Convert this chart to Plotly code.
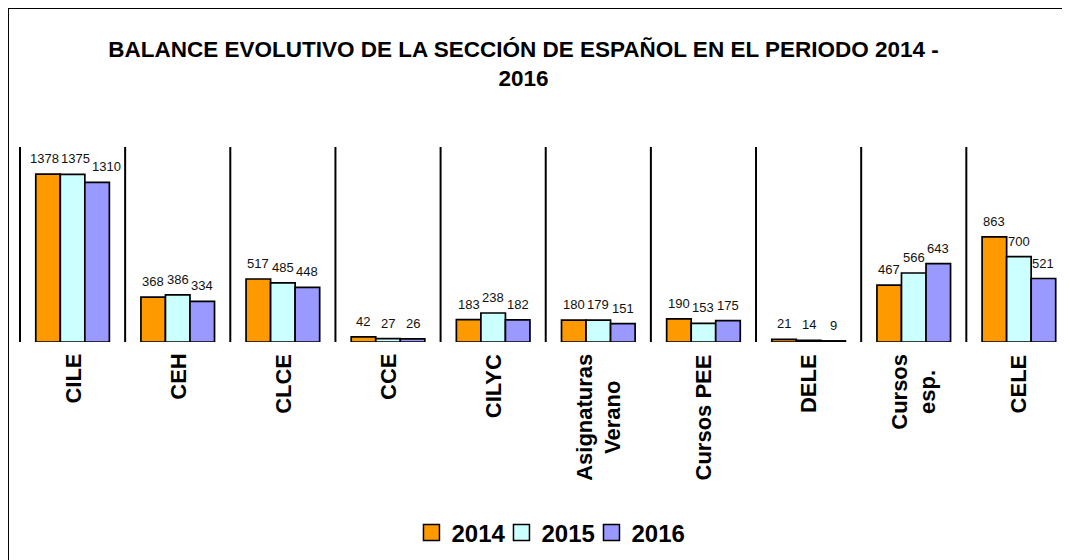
import plotly.graph_objects as go

categories = ["CILE", "CEH", "CLCE", "CCE", "CILYC", "Asignaturas Verano",
              "Cursos PEE", "DELE", "Cursos esp.", "CELE"]
category_labels = ["CILE", "CEH", "CLCE", "CCE", "CILYC", "Asignaturas<br>Verano",
                   "Cursos PEE", "DELE", "Cursos<br>esp.", "CELE"]
v2014 = [1378, 368, 517, 42, 183, 180, 190, 21, 467, 863]
v2015 = [1375, 386, 485, 27, 238, 179, 153, 14, 566, 700]
v2016 = [1310, 334, 448, 26, 182, 151, 175, 9, 643, 521]
series_names = ["2014", "2015", "2016"]
series_values = [v2014, v2015, v2016]
colors = ["#FF9900", "#CCFFFF", "#9999FF"]

FONT = "Liberation Sans, Arial, sans-serif"
BARGAP = 0.3
YMAX = 1600
XRANGE = [-0.538, 9.486]
W, H = 1070, 560
M = dict(l=8, r=8, t=139, b=226)

fig = go.Figure()
for name, vals, col in zip(series_names, series_values, colors):
    fig.add_trace(go.Bar(
        x=categories, y=vals, name=name, showlegend=False,
        marker=dict(color=col, line=dict(color="black", width=1.7)),
    ))
# legend entries with larger square swatches, one legend box per series
legend_ids = ["legend", "legend2", "legend3"]
for name, col, lid in zip(series_names, colors, legend_ids):
    fig.add_trace(go.Scatter(
        x=[None], y=[None], name=name, mode="markers", legend=lid,
        marker=dict(symbol="square", size=16, color=col, line=dict(color="black", width=1.5)),
    ))

shapes = []
for i in range(len(categories)):
    shapes.append(dict(type="line", xref="x", yref="paper", x0=i - 0.5, x1=i - 0.5,
                       y0=0, y1=1, line=dict(color="black", width=2)))
# outer chart border (left and top edges)
shapes.append(dict(type="line", xref="paper", yref="paper", x0=-0.0076, x1=-0.0076,
                   y0=-2.0, y1=1.7128, line=dict(color="black", width=2)))
shapes.append(dict(type="line", xref="paper", yref="paper", x0=-0.0076, x1=1.2,
                   y0=1.7128, y1=1.7128, line=dict(color="black", width=2)))

annotations = []
for cat, lab in zip(categories, category_labels):
    annotations.append(dict(x=cat, y=0, xref="x", yref="y", text=lab, showarrow=False,
                            textangle=-90, yanchor="top", xanchor="center", align="center",
                            yshift=-10,
                            font=dict(family=FONT, size=22, color="black", weight="bold")))

# value labels above each bar, nudged sideways where neighbours would collide
nser = len(series_values)
w = (1 - BARGAP) / nser
px_x = (W - M["l"] - M["r"]) / (XRANGE[1] - XRANGE[0])
px_y = (H - M["t"] - M["b"]) / YMAX
LBL_SIZE = 13
for i in range(len(categories)):
    shifts = [0.0] * nser
    for j in range(1, nser):
        a, b = series_values[j - 1][i], series_values[j][i]
        if abs(a - b) * px_y < LBL_SIZE:
            wa = len(str(a)) * 0.556 * LBL_SIZE
            wb = len(str(b)) * 0.556 * LBL_SIZE
            need = (wa + wb) / 2 + 2
            have = w * px_x + shifts[j] - shifts[j - 1]
            if have < need:
                d = need - have
                if j == 1:
                    shifts[j - 1] -= d / 2
                    shifts[j] += d / 2
                else:
                    shifts[j] += d
    for j in range(nser):
        v = series_values[j][i]
        annotations.append(dict(x=i + (j - (nser - 1) / 2) * w, y=v, xref="x", yref="y",
                                text=str(v), showarrow=False, yanchor="bottom",
                                xanchor="center", yshift=6, xshift=shifts[j],
                                font=dict(family=FONT, size=LBL_SIZE, color="#111111")))

legend_style = dict(orientation="h", xanchor="left", y=-0.979, yanchor="middle",
                    font=dict(family=FONT, size=24, color="black", weight="bold"),
                    itemwidth=30, itemsizing="trace", bgcolor="rgba(0,0,0,0)")
legend_x = [0.3752, 0.4606, 0.5460]

fig.update_layout(
    width=W, height=H,
    margin=M,
    paper_bgcolor="white", plot_bgcolor="white",
    barmode="group", bargap=BARGAP, bargroupgap=0,
    title=dict(text="BALANCE EVOLUTIVO DE LA SECCIÓN DE ESPAÑOL EN EL PERIODO 2014 -<br>2016",
               x=0.4818, xanchor="center", y=0.913, yanchor="top",
               font=dict(family=FONT, size=22.5, color="black", weight="bold")),
    xaxis=dict(type="category", range=XRANGE, showticklabels=False,
               showgrid=False, zeroline=False, showline=False, ticks=""),
    yaxis=dict(range=[0, YMAX], visible=False, showgrid=False, zeroline=False),
    legend=dict(x=legend_x[0], **legend_style),
    legend2=dict(x=legend_x[1], **legend_style),
    legend3=dict(x=legend_x[2], **legend_style),
    shapes=shapes,
    annotations=annotations,
    showlegend=True,
)

fig.write_html("out.html")
